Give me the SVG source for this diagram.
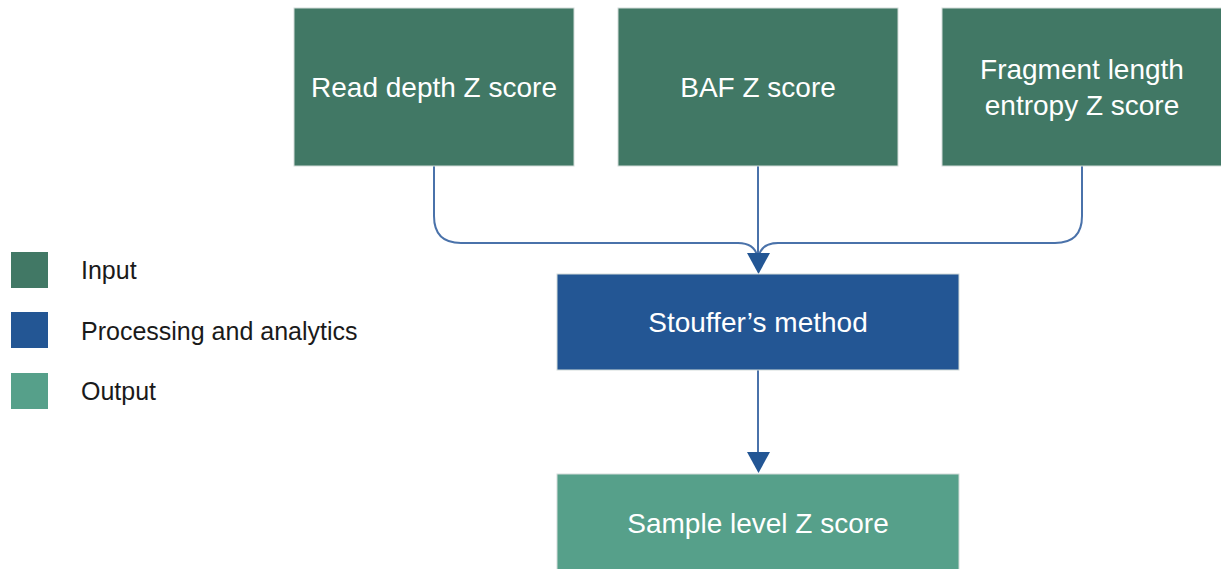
<svg xmlns="http://www.w3.org/2000/svg" width="1221" height="569" viewBox="0 0 1221 569">
  <style>
    .input { fill: #417865; }
    .proc { fill: #235694; }
    .output { fill: #56a08a; }
    .box { stroke: #d3dcd9; stroke-width: 1; }
    .ntext { font-family: "Liberation Sans", Arial, sans-serif; font-size: 28px; fill: #ffffff; text-anchor: middle; }
    .ltext { font-family: "Liberation Sans", Arial, sans-serif; font-size: 25px; fill: #1a1a1a; }
    .conn { fill: none; stroke: #4a72aa; stroke-width: 2; }
  </style>
  <rect width="1221" height="569" fill="#ffffff"/>

  <g id="connectors">
    <path class="conn" d="M434,166 V216 Q434,243 461,243 H738 Q758,243 758,263"/>
    <path class="conn" d="M1082,166 V216 Q1082,243 1055,243 H778 Q758,243 758,263"/>
    <path class="conn" d="M758,166 V256"/>
    <polygon points="747,253 770,253 758.5,274" fill="#235694"/>
    <path class="conn" d="M758,370 V454"/>
    <polygon points="747,452 770,452 758.5,473" fill="#235694"/>
  </g>

  <g id="node-read-depth">
    <rect class="input box" x="294" y="8" width="280" height="158"/>
    <text class="ntext" x="434" y="97">Read depth Z score</text>
  </g>
  <g id="node-baf">
    <rect class="input box" x="618" y="8" width="280" height="158"/>
    <text class="ntext" x="758" y="97">BAF Z score</text>
  </g>
  <g id="node-fragment">
    <rect class="input box" x="942" y="8" width="280" height="158"/>
    <text class="ntext" x="1082" y="79">Fragment length</text>
    <text class="ntext" x="1082" y="115">entropy Z score</text>
  </g>
  <g id="node-stouffer">
    <rect class="proc box" x="557" y="274" width="402" height="96"/>
    <text class="ntext" x="758" y="332">Stouffer’s method</text>
  </g>
  <g id="node-sample">
    <rect class="output box" x="557" y="474" width="402" height="96"/>
    <text class="ntext" x="758" y="533">Sample level Z score</text>
  </g>

  <g id="legend">
    <rect class="input" x="11" y="252" width="37" height="36"/>
    <text class="ltext" x="81" y="279">Input</text>
    <rect class="proc" x="11" y="312" width="37" height="36"/>
    <text class="ltext" x="81" y="340">Processing and analytics</text>
    <rect class="output" x="11" y="373" width="37" height="36"/>
    <text class="ltext" x="81" y="400">Output</text>
  </g>
</svg>
